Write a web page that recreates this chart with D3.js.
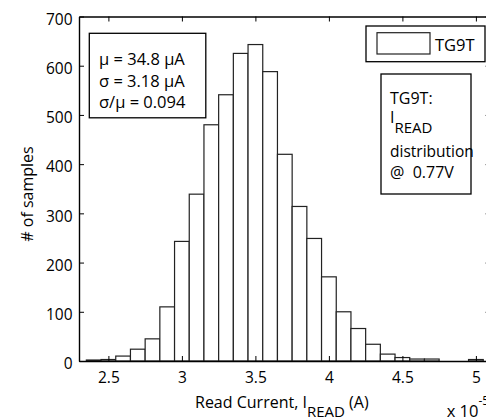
<!DOCTYPE html>
<html>
<head>
<meta charset="utf-8">
<script src="https://cdn.jsdelivr.net/npm/d3@7"></script>
<style>
  html, body { margin: 0; padding: 0; background: #fff; }
  svg { display: block; }
  text { font-family: "Open Sans", "Noto Sans", sans-serif; fill: #000; white-space: pre; }
</style>
</head>
<body>
<svg id="chart" width="486" height="419"></svg>
<script>
// Histogram of read current (units of 1e-5 A), bin width 0.1
const binCenters = [2.4, 2.5, 2.6, 2.7, 2.8, 2.9, 3.0, 3.1, 3.2, 3.3, 3.4, 3.5, 3.6, 3.7,
                    3.8, 3.9, 4.0, 4.1, 4.2, 4.3, 4.4, 4.5, 4.6, 4.7, 4.8, 4.9, 5.0];
const counts = [2, 3, 10, 24, 45, 110, 243, 339, 480, 541, 625, 643, 588, 420,
                314, 249, 171, 100, 66, 34, 14, 7, 4, 4, 0, 0, 3];
const binWidth = 0.1;
const xTicks = [2.5, 3, 3.5, 4, 4.5, 5];
const yTicks = [0, 100, 200, 300, 400, 500, 600, 700];
const seriesName = "TG9T";
const statsLines = ["μ = 34.8 μA", "σ = 3.18 μA", "σ/μ = 0.094"];

const svg = d3.select("#chart");
const plotLeft = 79, plotRight = 490.6, plotTop = 16.5, plotBottom = 361;

const x = d3.scaleLinear().domain([2.3, 5.1]).range([plotLeft, plotRight]);
const y = d3.scaleLinear().domain([0, 700]).range([plotBottom, plotTop]);

// bars
svg.append("g")
  .selectAll("rect")
  .data(binCenters.map((c, i) => ({ c, n: counts[i] })))
  .join("rect")
  .attr("x", d => x(d.c - binWidth / 2))
  .attr("width", d => x(d.c + binWidth / 2) - x(d.c - binWidth / 2))
  .attr("y", d => y(d.n))
  .attr("height", d => y(0) - y(d.n))
  .attr("fill", "#fff")
  .attr("stroke", "#222")
  .attr("stroke-width", 1.2);

// axes with inward ticks
const xAxis = d3.axisBottom(x).tickValues(xTicks).tickFormat(d3.format(""))
  .tickSizeInner(-5).tickSizeOuter(0).tickPadding(11.4);
const gx = svg.append("g").attr("transform", `translate(0,${plotBottom})`).call(xAxis);

const yAxis = d3.axisLeft(y).tickValues(yTicks)
  .tickSizeInner(-5).tickSizeOuter(0).tickPadding(6.5);
const gy = svg.append("g").attr("transform", `translate(${plotLeft},0)`).call(yAxis);

const gxt = svg.append("g").attr("transform", `translate(0,${plotTop})`)
  .call(d3.axisTop(x).tickValues(xTicks).tickFormat("").tickSizeInner(-5).tickSizeOuter(0));
const gyr = svg.append("g").attr("transform", `translate(${plotRight},0)`)
  .call(d3.axisRight(y).tickValues(yTicks).tickFormat("").tickSizeInner(-5).tickSizeOuter(0));

[gx, gy, gxt, gyr].forEach(g => {
  g.selectAll("path.domain").attr("stroke", "#000").attr("stroke-width", 1.4);
  g.selectAll(".tick line").attr("stroke", "#000").attr("stroke-width", 1);
  g.selectAll(".tick text").attr("font-family", "Open Sans, Noto Sans, sans-serif")
    .attr("font-size", 15.5).attr("fill", "#000");
});
gy.selectAll(".tick text").attr("dy", "0.5em");

// axis titles
const xl = svg.append("text").attr("x", 195).attr("y", 408.3).attr("font-size", 16);
xl.append("tspan").text("Read Current, I");
xl.append("tspan").attr("dy", 9).attr("font-size", 15).text("READ");
xl.append("tspan").attr("dy", -9).text(" (A)");

svg.append("text")
  .attr("transform", "translate(33,194) rotate(-90)")
  .attr("text-anchor", "middle").attr("font-size", 16)
  .text("# of samples");

const xm = svg.append("text").attr("x", 446.7).attr("y", 417).attr("font-size", 16.5);
xm.append("tspan").text("x 10");
xm.append("tspan").attr("dy", -12).attr("font-size", 12).text("-5");

// statistics box
svg.append("rect").attr("x", 89.3).attr("y", 33.3).attr("width", 116.5).attr("height", 84.5)
  .attr("fill", "#fff").attr("stroke", "#000").attr("stroke-width", 1.3);
svg.append("g").selectAll("text").data(statsLines).join("text")
  .attr("x", 99).attr("y", (d, i) => 65 + i * 21.7).attr("font-size", 16.5)
  .text(d => d);

// legend
svg.append("rect").attr("x", 366).attr("y", 26).attr("width", 119).attr("height", 35.7)
  .attr("fill", "#fff").attr("stroke", "#000").attr("stroke-width", 1.3);
svg.append("rect").attr("x", 377).attr("y", 32.7).attr("width", 53).attr("height", 21.3)
  .attr("fill", "#fff").attr("stroke", "#222").attr("stroke-width", 1.2);
svg.append("text").attr("x", 435).attr("y", 50.5).attr("font-size", 16.5).text(seriesName);

// annotation box
svg.append("rect").attr("x", 381).attr("y", 74).attr("width", 90).attr("height", 120)
  .attr("fill", "#fff").attr("stroke", "#000").attr("stroke-width", 1.3);
const ann = svg.append("g").attr("font-size", 16);
ann.append("text").attr("x", 390).attr("y", 104).text(seriesName + ":");
const ir = ann.append("text").attr("x", 390).attr("y", 123);
ir.append("tspan").text("I");
ir.append("tspan").attr("dy", 10).attr("font-size", 15).text("READ");
ann.append("text").attr("x", 390).attr("y", 156.7).attr("font-size", 15.5).text("distribution");
ann.append("text").attr("x", 390).attr("y", 178.3).text("@  0.77V");
</script>
</body>
</html>
